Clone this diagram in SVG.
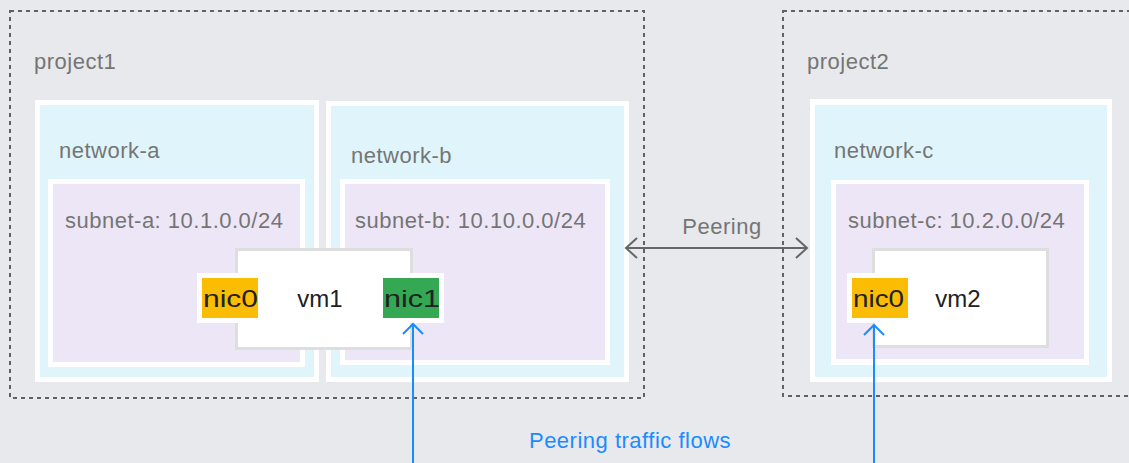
<svg xmlns="http://www.w3.org/2000/svg" width="1129" height="463" viewBox="0 0 1129 463">
  <defs>
    <style>
      .lbl { font-family: "Liberation Sans", Arial, sans-serif; font-size: 22px; fill: #757575; letter-spacing: 0.5px; }
      .vm { font-family: "Liberation Sans", Arial, sans-serif; font-size: 24px; fill: #202124; }
      .proj { fill: none; stroke: #616161; stroke-width: 2; stroke-dasharray: 4 4; }
      .netW { fill: #ffffff; }
      .net { fill: #dff5fb; }
      .sub { fill: #ede6f6; }
      .vmbox { fill: #ffffff; stroke: #dedede; stroke-width: 3; }
      .blue { stroke: #1a8cff; stroke-width: 2; fill: none; }
      .peer { stroke: #666666; stroke-width: 2; fill: none; }
    </style>
    <marker id="ahBlue" viewBox="0 0 14 24" refX="12" refY="12" markerWidth="14" markerHeight="24" markerUnits="userSpaceOnUse" orient="auto-start-reverse">
      <path d="M2,2 L12,12 L2,22" fill="none" stroke="#1a8cff" stroke-width="2"/>
    </marker>
    <marker id="ahGray" viewBox="0 0 14 24" refX="12" refY="12" markerWidth="14" markerHeight="24" markerUnits="userSpaceOnUse" orient="auto-start-reverse">
      <path d="M1,2 L12,12 L1,22" fill="none" stroke="#666666" stroke-width="2"/>
    </marker>
  </defs>
  <rect x="0" y="0" width="1129" height="463" fill="#e8e9ec"/>

  <g id="project1">
    <rect class="proj" x="10" y="11" width="634" height="387"/>
    <text class="lbl" x="34" y="69">project1</text>
  </g>
  <g id="project2">
    <rect class="proj" x="783" y="11" width="360" height="385"/>
    <text class="lbl" x="807" y="69">project2</text>
  </g>

  <g id="network-a">
    <rect class="netW" x="35" y="100" width="284" height="282"/>
    <rect class="net" x="40" y="105" width="274" height="272"/>
    <text class="lbl" x="59" y="158">network-a</text>
  </g>
  <g id="network-b">
    <rect class="netW" x="326" y="101" width="303" height="281"/>
    <rect class="net" x="331" y="106" width="293" height="271"/>
    <text class="lbl" x="351" y="163">network-b</text>
  </g>
  <g id="network-c">
    <rect class="netW" x="810" y="99" width="302" height="283"/>
    <rect class="net" x="815" y="105" width="292" height="272"/>
    <text class="lbl" x="834" y="158">network-c</text>
  </g>

  <g id="subnet-a">
    <rect class="netW" x="48" y="179" width="257" height="188"/>
    <rect class="sub" x="53" y="184" width="247" height="178"/>
    <text class="lbl" x="65" y="228">subnet-a: 10.1.0.0/24</text>
  </g>
  <g id="subnet-b">
    <rect class="netW" x="340" y="179" width="270" height="186"/>
    <rect class="sub" x="345" y="184" width="260" height="176"/>
    <text class="lbl" x="355" y="228">subnet-b: 10.10.0.0/24</text>
  </g>
  <g id="subnet-c">
    <rect class="netW" x="831" y="180" width="258" height="185"/>
    <rect class="sub" x="836" y="184" width="248" height="175"/>
    <text class="lbl" x="848" y="228">subnet-c: 10.2.0.0/24</text>
  </g>

  <g id="vm1">
    <rect class="vmbox" x="236.5" y="249.5" width="175" height="99"/>
    <text class="vm" x="320" y="307" text-anchor="middle">vm1</text>
  </g>
  <g id="vm1-nic0">
    <rect x="197" y="273" width="66" height="50" fill="#ffffff"/>
    <rect x="202" y="278" width="56" height="40" fill="#fbbc04"/>
    <text class="vm" x="203" y="307" textLength="55" lengthAdjust="spacingAndGlyphs">nic0</text>
  </g>
  <g id="vm1-nic1">
    <rect x="378" y="273" width="66" height="50" fill="#ffffff"/>
    <rect x="383" y="278" width="56" height="40" fill="#34a853"/>
    <text class="vm" x="384" y="307" textLength="56" lengthAdjust="spacingAndGlyphs">nic1</text>
  </g>

  <g id="vm2">
    <rect class="vmbox" x="873.5" y="249.5" width="174" height="97"/>
    <text class="vm" x="958" y="307" text-anchor="middle">vm2</text>
  </g>
  <g id="vm2-nic0">
    <rect x="847" y="273" width="66" height="50" fill="#ffffff"/>
    <rect x="852" y="278" width="56" height="40" fill="#fbbc04"/>
    <text class="vm" x="853" y="307" textLength="51" lengthAdjust="spacingAndGlyphs">nic0</text>
  </g>

  <g id="connectors">
    <line class="peer" x1="626" y1="248" x2="807" y2="248" marker-start="url(#ahGray)" marker-end="url(#ahGray)"/>
    <text class="lbl" x="722" y="234" text-anchor="middle">Peering</text>
    <line class="blue" x1="413" y1="463" x2="413" y2="324" marker-end="url(#ahBlue)"/>
    <line class="blue" x1="874" y1="463" x2="874" y2="325" marker-end="url(#ahBlue)"/>
    <text class="lbl" x="630" y="448" text-anchor="middle" style="fill:#1a8cff">Peering traffic flows</text>
  </g>
</svg>
